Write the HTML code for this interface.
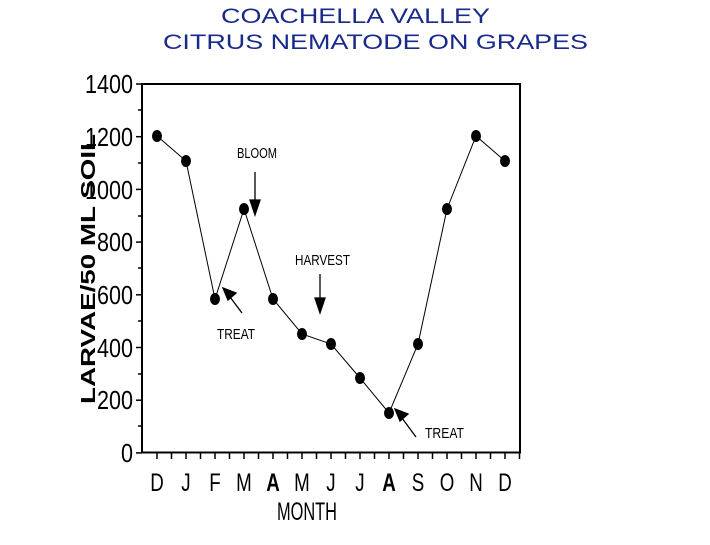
<!DOCTYPE html>
<html><head><style>body{margin:0;background:#fff}svg{display:block}</style></head>
<body>
<svg width="710" height="545" viewBox="0 0 710 545" xmlns="http://www.w3.org/2000/svg">
<g font-family="Liberation Sans, sans-serif" fill="#1a2a8a" font-size="21" lengthAdjust="spacingAndGlyphs">
<text x="221" y="23" textLength="269" lengthAdjust="spacingAndGlyphs">COACHELLA VALLEY</text>
<text x="163" y="49" textLength="425" lengthAdjust="spacingAndGlyphs">CITRUS NEMATODE ON GRAPES</text>
</g>
<rect x="142" y="84" width="378" height="368.5" fill="none" stroke="#000" stroke-width="2"/>
<g stroke="#000" stroke-width="1.5">
<line x1="136" y1="84" x2="142" y2="84"/>
<line x1="136" y1="136.7" x2="142" y2="136.7"/>
<line x1="136" y1="189.4" x2="142" y2="189.4"/>
<line x1="136" y1="242.1" x2="142" y2="242.1"/>
<line x1="136" y1="294.8" x2="142" y2="294.8"/>
<line x1="136" y1="347.5" x2="142" y2="347.5"/>
<line x1="136" y1="400.2" x2="142" y2="400.2"/>
<line x1="136" y1="452.9" x2="142" y2="452.9"/>
<line x1="138" y1="110" x2="142" y2="110"/><line x1="138" y1="163" x2="142" y2="163"/>
<line x1="138" y1="216" x2="142" y2="216"/><line x1="138" y1="268" x2="142" y2="268"/>
<line x1="138" y1="321" x2="142" y2="321"/><line x1="138" y1="374" x2="142" y2="374"/>
<line x1="138" y1="426" x2="142" y2="426"/>
</g>
<path stroke="#000" stroke-width="1.5" d="M157 452v7M171.5 452v7M186 452v7M200.5 452v7M215 452v7M229.5 452v7M244 452v7M258.5 452v7M273 452v7M287.5 452v7M302 452v7M316.5 452v7M331 452v7M345.5 452v7M360 452v7M374.5 452v7M389 452v7M403.5 452v7M418 452v7M432.5 452v7M447 452v7M461.5 452v7M476 452v7M490.5 452v7M505 452v7M519.5 452v7"/>
<g font-family="Liberation Sans, sans-serif" font-size="26" fill="#000">
<text x="85" y="93" textLength="48" lengthAdjust="spacingAndGlyphs">1400</text>
<text x="85" y="146" textLength="48" lengthAdjust="spacingAndGlyphs">1200</text>
<text x="85" y="199" textLength="48" lengthAdjust="spacingAndGlyphs">1000</text>
<text x="97" y="251" textLength="36" lengthAdjust="spacingAndGlyphs">800</text>
<text x="97" y="304" textLength="36" lengthAdjust="spacingAndGlyphs">600</text>
<text x="97" y="357" textLength="36" lengthAdjust="spacingAndGlyphs">400</text>
<text x="97" y="409" textLength="36" lengthAdjust="spacingAndGlyphs">200</text>
<text x="121" y="462" textLength="12" lengthAdjust="spacingAndGlyphs">0</text>
</g>
<text transform="translate(95,404) rotate(-90)" font-family="Liberation Sans, sans-serif" font-weight="bold" font-size="20" textLength="270" lengthAdjust="spacingAndGlyphs">LARVAE/50 ML SOIL</text>
<g font-family="Liberation Sans, sans-serif" font-size="25" text-anchor="middle" fill="#000">
<g transform="translate(0,491) scale(1,1)">
<text x="157" y="0" transform="translate(157,0) scale(0.75,1) translate(-157,0)">D</text>
<text x="186" y="0" transform="translate(186,0) scale(0.75,1) translate(-186,0)">J</text>
<text x="215" y="0" transform="translate(215,0) scale(0.75,1) translate(-215,0)">F</text>
<text x="244" y="0" transform="translate(244,0) scale(0.75,1) translate(-244,0)">M</text>
<text x="273" y="0" font-weight="bold" transform="translate(273,0) scale(0.75,1) translate(-273,0)">A</text>
<text x="302" y="0" transform="translate(302,0) scale(0.75,1) translate(-302,0)">M</text>
<text x="331" y="0" transform="translate(331,0) scale(0.75,1) translate(-331,0)">J</text>
<text x="360" y="0" transform="translate(360,0) scale(0.75,1) translate(-360,0)">J</text>
<text x="389" y="0" font-weight="bold" transform="translate(389,0) scale(0.75,1) translate(-389,0)">A</text>
<text x="418" y="0" transform="translate(418,0) scale(0.75,1) translate(-418,0)">S</text>
<text x="447" y="0" transform="translate(447,0) scale(0.75,1) translate(-447,0)">O</text>
<text x="476" y="0" transform="translate(476,0) scale(0.75,1) translate(-476,0)">N</text>
<text x="505" y="0" transform="translate(505,0) scale(0.75,1) translate(-505,0)">D</text>
</g>
</g>
<text x="277" y="520" font-family="Liberation Sans, sans-serif" font-size="25" textLength="60" lengthAdjust="spacingAndGlyphs">MONTH</text>
<polyline fill="none" stroke="#000" stroke-width="1" points="157,136 186,161 215,299 244,209 273,299 302,334 331,344 360,378 389,413 418,344 447,209 476,136 505,161"/>
<g fill="#000">
<ellipse cx="157" cy="136" rx="5" ry="6"/><ellipse cx="186" cy="161" rx="5" ry="6"/><ellipse cx="215" cy="299" rx="5" ry="6"/>
<ellipse cx="244" cy="209" rx="5" ry="6"/><ellipse cx="273" cy="299" rx="5" ry="6"/><ellipse cx="302" cy="334" rx="5" ry="6"/>
<ellipse cx="331" cy="344" rx="5" ry="6"/><ellipse cx="360" cy="378" rx="5" ry="6"/><ellipse cx="389" cy="413" rx="5" ry="6"/>
<ellipse cx="418" cy="344" rx="5" ry="6"/><ellipse cx="447" cy="209" rx="5" ry="6"/><ellipse cx="476" cy="136" rx="5" ry="6"/>
<ellipse cx="505" cy="161" rx="5" ry="6"/>
</g>
<g stroke="#000" stroke-width="1.3" fill="#000">
<line x1="255" y1="172" x2="255" y2="208"/><path d="M250 200 L255 215 L260 200 Z"/>
<line x1="320" y1="274" x2="320" y2="306"/><path d="M315 298 L320 313 L325 298 Z"/>
<line x1="242" y1="313" x2="227" y2="293"/><path d="M223 288 L236 293 L228 300 Z"/>
<line x1="416" y1="437" x2="399" y2="414"/><path d="M395 409 L408 414 L400 421 Z"/>
</g>
<g font-family="Liberation Sans, sans-serif" font-size="15" fill="#000">
<text x="237" y="158" textLength="40" lengthAdjust="spacingAndGlyphs">BLOOM</text>
<text x="295" y="265" textLength="55" lengthAdjust="spacingAndGlyphs">HARVEST</text>
<text x="217" y="339" textLength="38" lengthAdjust="spacingAndGlyphs">TREAT</text>
<text x="425" y="438" textLength="39" lengthAdjust="spacingAndGlyphs">TREAT</text>
</g>
</svg>
</body></html>
